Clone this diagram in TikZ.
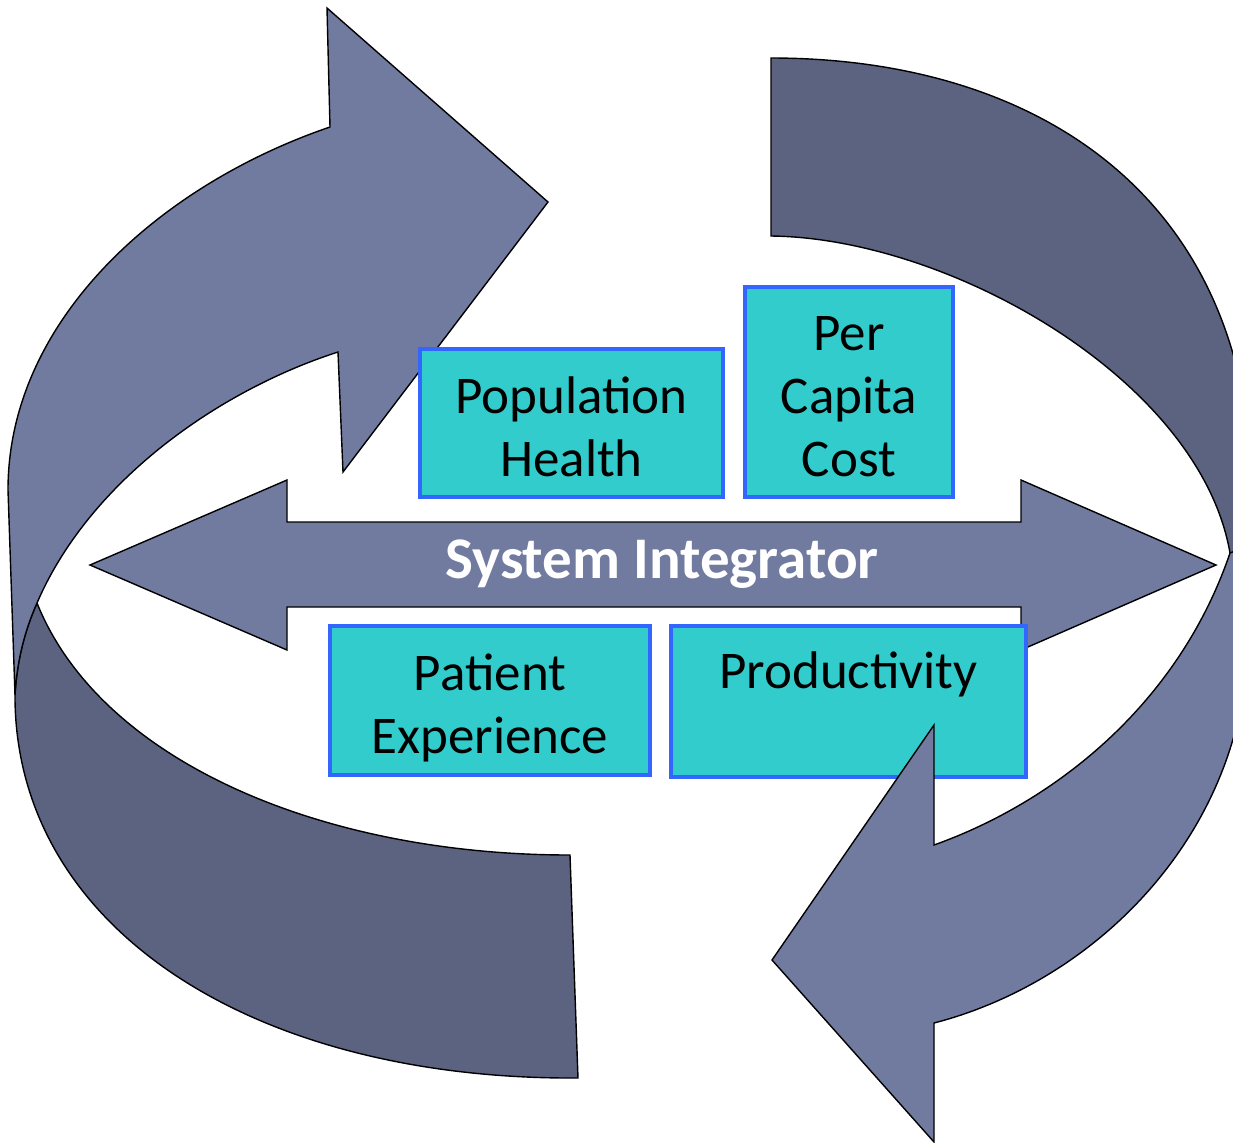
\documentclass[tikz,border=0pt]{standalone}
\usepackage{fontspec}
\setmainfont{Carlito}
\definecolor{bandlight}{HTML}{717BA0}
\definecolor{banddark}{HTML}{5B6380}
\definecolor{boxfill}{HTML}{33CCCC}
\definecolor{boxline}{HTML}{3366FF}
\tikzset{
  band/.style={draw=black, line width=0.7pt, line join=miter},
  lightband/.style={band, fill=bandlight},
  darkband/.style={band, fill=banddark},
  goalbox/.style={draw=boxline, line width=2pt, fill=boxfill, inner sep=0pt},
  boxtext/.style={inner sep=0pt, align=center, text=black,
    font=\fontsize{26.5}{31.5}\selectfont},
}
\begin{document}
\begin{tikzpicture}[x=0.5pt, y=-0.5pt]
\useasboundingbox (0,0) rectangle (1233,1142);
\clip (0,0) rectangle (1233,1142);

% left circular arrow: back (dark) part of the band
\path[darkband] (37,603) .. controls (100,760) and (320,855) .. (570,855)
  -- (578,1078) .. controls (255,1080) and (18,930) .. (15,700)
  -- (15,695) .. controls (17,660) and (25,630) .. (37,603) -- cycle;
% left circular arrow: front (light) part with its head
\path[lightband] (330,127) -- (327,8) -- (548,202) -- (343,472) -- (338,352)
  .. controls (220,390) and (90,480) .. (37,603)
  .. controls (25,630) and (17,660) .. (15,695)
  -- (8,490) .. controls (8,320) and (160,185) .. (330,127) -- cycle;

% central double arrow
\path[lightband] (90,565) -- (287,480) -- (287,522) -- (1021,522) -- (1021,480)
  -- (1216,565) -- (1021,650) -- (1021,607) -- (287,607) -- (287,650) -- cycle;
\node[anchor=base, inner sep=0pt, text=white,
  font=\fontsize{29.5}{35}\selectfont\bfseries]
  (sys) at (662,578) {System Integrator};

% goal boxes
\node[goalbox, minimum width=151.5pt, minimum height=74pt] (pop) at (571.5,423) {};
\node[goalbox, minimum width=104pt, minimum height=105pt] (pcc) at (849,392) {};
\node[goalbox, minimum width=160pt, minimum height=74.5pt] (pat) at (490,700.5) {};
\node[goalbox, minimum width=177.5pt, minimum height=75.5pt] (prod) at (848.5,701.5) {};

\node[boxtext] (popt) at ([yshift=-2pt]pop.center) {Population\\Health};
\node[boxtext] (pcct) at ([yshift=-2.5pt]pcc.center) {Per\\Capita\\Cost};
\node[boxtext] (patt) at ([yshift=-3.5pt]pat.center) {Patient\\Experience};
\node[boxtext, anchor=base] (prodt) at (848.5,688) {Productivity};

% right circular arrow: back (dark) part of the band
\path[darkband] (771,236) -- (771,58) .. controls (1040,58) and (1262,200) .. (1252,520)
  -- (1250,560) -- (1230,553)
  .. controls (1200,380) and (950,238) .. (771,236) -- cycle;
% right circular arrow: front (light) part with its head
\path[lightband] (934,845) -- (934,725) -- (772,960) -- (934,1142) -- (934,1023)
  .. controls (1100,980) and (1245,830) .. (1248,640)
  -- (1250,545) -- (1230,553)
  .. controls (1180,700) and (1060,800) .. (934,845) -- cycle;
\end{tikzpicture}
\end{document}
